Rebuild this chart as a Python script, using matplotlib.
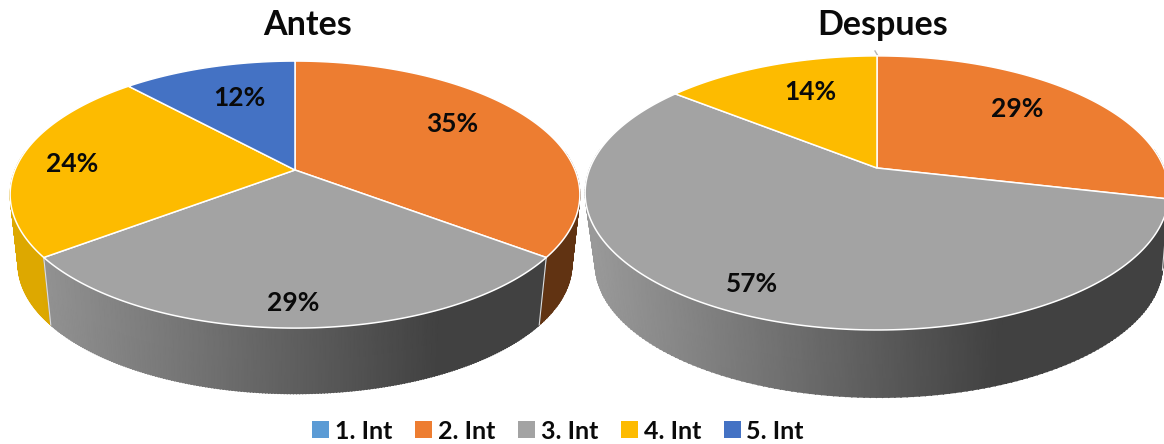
import numpy as np
import matplotlib
matplotlib.use("Agg")
import matplotlib.pyplot as plt
from matplotlib.colors import LinearSegmentedColormap, Normalize
from matplotlib.patches import Patch, Polygon

categories = ["1. Int", "2. Int", "3. Int", "4. Int", "5. Int"]
antes = [0, 35.3, 29.4, 23.5, 11.8]
despues = [0, 28.6, 57.1, 14.3, 0]

colors = ["#5B9BD5", "#ED7D31", "#A3A3A3", "#FDBB00", "#4472C4"]
# wall colour at the lit and the dark end of each slice
walls_antes = {1: ("#613312", "#613312"), 2: ("#979797", "#414141"),
               3: ("#DDA800", "#D4A000"), 4: ("#2F4F8A", "#2F4F8A")}
walls_despues = {1: ("#414141", "#414141"), 2: ("#9A9A9A", "#414141"),
                 3: ("#DDA800", "#D4A000")}

plt.rcParams["font.family"] = ["Lato", "DejaVu Sans"]

fig = plt.figure(figsize=(11.64, 4.44), dpi=100)
ax = fig.add_axes([0, 0, 1, 1])


def rim(t, x0, y0, a, b, k, scale=1.0):
    # tilted circle, so the slices meet off the centre of the ellipse
    w = 1 + k * np.sin(t)
    return x0 + scale * b * np.cos(t) / w, y0 - scale * a * np.sin(t) / w


def draw_pie(values, walls, x0, y0, a, b, k, depth, scale, shift, x_span):
    edges = 90 - np.cumsum([0] + values) * 3.6
    slices = [(i, np.radians(np.linspace(edges[i], edges[i + 1], 200)))
              for i in range(len(values)) if values[i] > 0]

    # walls first, only the front part of the rim can be seen
    for i, t in slices:
        front = t[np.sin(t) < 0.15]
        if len(front) < 2:
            continue
        xt, yt = rim(front, x0, y0, a, b, k)
        xb, yb = rim(front, x0 + shift, y0 + depth, a, b, k, scale)
        cmap = LinearSegmentedColormap.from_list("w", walls[i])
        X = np.vstack([xt, xb])
        Y = np.vstack([yt, yb])
        ax.pcolormesh(X, Y, X, cmap=cmap, norm=Normalize(*x_span),
                      shading="gouraud", zorder=2 + 0.1 * (i == 2))
        # soft edge along the bottom of the wall
        ax.scatter(xb, yb, c=xb, cmap=cmap, norm=Normalize(*x_span), s=1.2,
                   linewidths=0, zorder=1.9)
        if np.sin(t[-1]) < 0:
            ax.plot([xt[-1], xb[-1]], [yt[-1], yb[-1]], color="#dddddd",
                    lw=0.8, zorder=3)

    for i, t in slices:
        xt, yt = rim(t, x0, y0, a, b, k)
        pts = np.vstack([[x0, y0], np.column_stack([xt, yt])])
        ax.add_patch(Polygon(pts, closed=True, facecolor=colors[i],
                             edgecolor="white", lw=1.1, zorder=4))


draw_pie(antes, walls_antes, 295, 170, 129, 280, 0.184, 70, 0.972, 0, (20, 440))
draw_pie(despues, walls_despues, 877, 168, 132.5, 287, 0.182, 72, 0.972, 2,
         (590, 1000))

for value, x, y in zip(antes[1:], [452, 293, 72, 239], [124, 303, 164, 98]):
    ax.text(x, y, f"{value:.0f}%", ha="center", va="center", fontsize=19,
            fontweight="bold", color="#0a0a0a", zorder=6)
for value, x, y in zip(despues[1:4], [1017, 752, 810], [109, 284, 92]):
    ax.text(x, y, f"{value:.0f}%", ha="center", va="center", fontsize=19,
            fontweight="bold", color="#0a0a0a", zorder=6)

ax.text(307.5, 25, "Antes", ha="center", va="center", fontsize=24.5,
        fontweight="bold", color="#0a0a0a")
ax.text(883, 25, "Despues", ha="center", va="center", fontsize=24.5,
        fontweight="bold", color="#0a0a0a")
ax.plot([875, 878], [51, 56], color="#b5b5b5", lw=1, zorder=3)

handles = [Patch(facecolor=c, edgecolor="none") for c in colors]
ax.legend(handles, categories, loc="center", bbox_to_anchor=(558, 431),
          bbox_transform=ax.transData, ncols=5, frameon=False,
          prop={"size": 18, "weight": "bold"}, handlelength=0.68,
          handleheight=0.68, handletextpad=0.24, columnspacing=0.9,
          borderpad=0, labelcolor="#0a0a0a")

ax.set_xlim(0, 1164)
ax.set_ylim(444, 0)
ax.axis("off")

plt.savefig("out.png", dpi=100, facecolor="white")
